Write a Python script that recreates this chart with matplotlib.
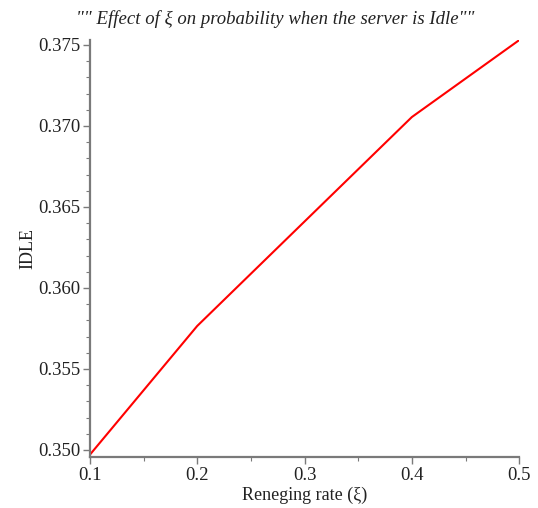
import matplotlib
matplotlib.use("Agg")
import matplotlib.pyplot as plt
from matplotlib.ticker import MultipleLocator, FormatStrFormatter

# Reneging rate vs. probability that the server is idle
xi = [0.1, 0.2, 0.3, 0.4, 0.5]
idle = [0.3497, 0.35765, 0.3641, 0.37055, 0.3753]

SERIF = ["Liberation Serif", "DejaVu Serif"]
AXIS_GREY = "#7a7a7a"

plt.rcParams["font.family"] = SERIF

fig = plt.figure(figsize=(5.38, 5.08), dpi=100)
ax = fig.add_axes([0.167, 0.100, 0.798, 0.821])

ax.plot(xi, idle, color="#ff0000", linewidth=1.5, solid_capstyle="butt")

ax.set_xlim(0.1, 0.5)
ax.set_ylim(0.34955, 0.3753)

ax.xaxis.set_major_locator(MultipleLocator(0.1))
ax.xaxis.set_minor_locator(MultipleLocator(0.05))
ax.yaxis.set_major_locator(MultipleLocator(0.005))
ax.yaxis.set_minor_locator(MultipleLocator(0.001))
ax.xaxis.set_major_formatter(FormatStrFormatter("%.1f"))
ax.yaxis.set_major_formatter(FormatStrFormatter("%.3f"))

for side in ("top", "right"):
    ax.spines[side].set_visible(False)
for side in ("left", "bottom"):
    ax.spines[side].set_color(AXIS_GREY)
    ax.spines[side].set_linewidth(1.6)

ax.tick_params(which="major", length=5, width=1.0, color=AXIS_GREY,
               labelsize=13.5, labelcolor="#222222", pad=2)
ax.tick_params(which="minor", length=3, width=0.8, color=AXIS_GREY)

ax.set_xlabel("Reneging rate (\u03be)", fontsize=13, color="#222222", labelpad=2)
ax.set_ylabel("IDLE", fontsize=13, color="#222222", labelpad=1)

fig.text(0.511, 0.963,
         "\"\" Effect of \u03be on probability when the server is Idle\"\"",
         ha="center", va="center", fontsize=13.5, style="italic",
         color="#222222")

fig.savefig("out.png", dpi=100, facecolor="white")
